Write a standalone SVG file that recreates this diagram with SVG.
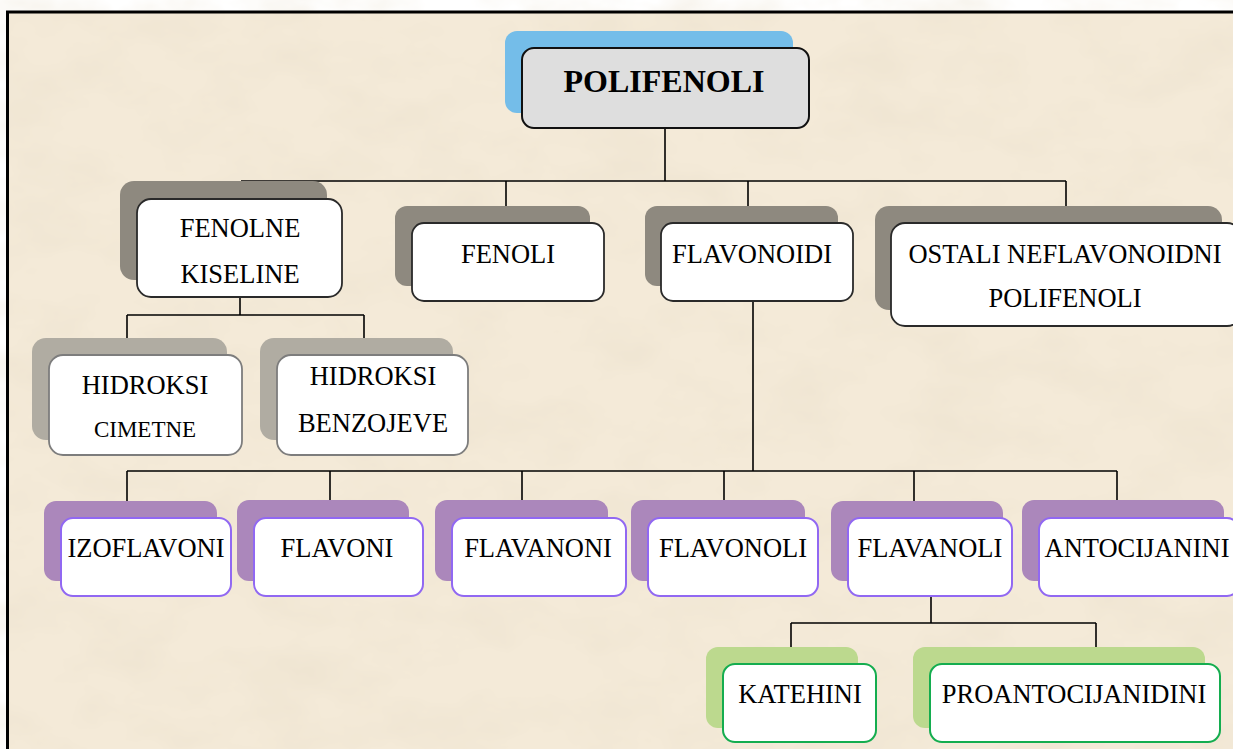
<svg xmlns="http://www.w3.org/2000/svg" width="1233" height="749" viewBox="0 0 1233 749">
<defs>
<filter id="paper" x="0" y="0" width="100%" height="100%" filterUnits="userSpaceOnUse">
<feTurbulence type="fractalNoise" baseFrequency="0.012 0.02" numOctaves="4" seed="7" result="n"/>
<feColorMatrix in="n" type="matrix" values="0 0 0 0 0.82  0 0 0 0 0.74  0 0 0 0 0.60  0.9 0 0 0 -0.36"/>
</filter>
<style>
.t{font-family:"Liberation Serif","Times New Roman",serif;font-size:26.5px;fill:#000;text-anchor:middle}
.tb{font-family:"Liberation Serif","Times New Roman",serif;font-size:32px;font-weight:bold;fill:#000;text-anchor:middle}
.conn line{stroke:#000;stroke-width:1.6}
.sh1{fill:#8e897f}
.sh2{fill:#b0aca2}
.shp{fill:#ab87bb}
.shg{fill:#bcd98e}
.shb{fill:#74bde9}
.f1{fill:#fff;stroke:#2a2a2a;stroke-width:1.8}
.f2{fill:#fff;stroke:#7d7d7d;stroke-width:1.8}
.fp{fill:#fff;stroke:#9168f2;stroke-width:2}
.fg{fill:#fff;stroke:#14ad4f;stroke-width:2}
.fr{fill:#dedede;stroke:#111;stroke-width:2}
</style>
</defs>
<rect x="0" y="0" width="1233" height="749" fill="#fff"/>
<rect x="7" y="12" width="1226" height="737" fill="#f4ead8"/>
<rect x="7" y="12" width="1226" height="737" filter="url(#paper)"/>
<line x1="6" y1="12" x2="1233" y2="12" stroke="#000" stroke-width="3"/>
<line x1="7.5" y1="11" x2="7.5" y2="749" stroke="#000" stroke-width="3"/>

<g id="connectors" class="conn">
<line x1="665" y1="128" x2="665" y2="181"/>
<line x1="241" y1="181" x2="1066" y2="181"/>
<line x1="241" y1="181" x2="241" y2="199"/>
<line x1="506" y1="181" x2="506" y2="206"/>
<line x1="748" y1="181" x2="748" y2="206"/>
<line x1="1066" y1="181" x2="1066" y2="206"/>
<line x1="240" y1="297" x2="240" y2="315"/>
<line x1="127" y1="315" x2="364" y2="315"/>
<line x1="127" y1="315" x2="127" y2="338"/>
<line x1="364" y1="315" x2="364" y2="338"/>
<line x1="753" y1="301" x2="753" y2="471"/>
<line x1="127" y1="471" x2="1117" y2="471"/>
<line x1="127" y1="471" x2="127" y2="501"/>
<line x1="330" y1="471" x2="330" y2="500"/>
<line x1="522" y1="471" x2="522" y2="500"/>
<line x1="724" y1="471" x2="724" y2="500"/>
<line x1="914" y1="471" x2="914" y2="501"/>
<line x1="1117" y1="471" x2="1117" y2="500"/>
<line x1="931" y1="596" x2="931" y2="623"/>
<line x1="791" y1="623" x2="1096" y2="623"/>
<line x1="791" y1="623" x2="791" y2="647"/>
<line x1="1096" y1="623" x2="1096" y2="647"/>
</g>

<g id="polifenoli">
<rect class="shb" x="505" y="31" width="288" height="82" rx="12"/>
<rect class="fr" x="522" y="48" width="287" height="80" rx="12"/>
<text class="tb" x="664" y="92">POLIFENOLI</text>
</g>

<g id="fenolne-kiseline">
<rect class="sh1" x="120" y="181" width="207" height="99" rx="14"/>
<rect class="f1" x="137" y="199" width="205" height="98" rx="14"/>
<text class="t" x="240" y="237">FENOLNE</text>
<text class="t" x="240" y="283">KISELINE</text>
</g>

<g id="fenoli">
<rect class="sh1" x="395" y="206" width="195" height="80" rx="12"/>
<rect class="f1" x="412" y="223" width="192" height="78" rx="12"/>
<text class="t" x="508" y="263">FENOLI</text>
</g>

<g id="flavonoidi">
<rect class="sh1" x="645" y="206" width="193" height="80" rx="12"/>
<rect class="f1" x="661" y="223" width="192" height="78" rx="12"/>
<text class="t" x="752" y="263">FLAVONOIDI</text>
</g>

<g id="ostali">
<rect class="sh1" x="875" y="206" width="347" height="104" rx="14"/>
<rect class="f1" x="891" y="223" width="350" height="103" rx="14"/>
<text class="t" x="1065" y="263">OSTALI NEFLAVONOIDNI</text>
<text class="t" x="1065" y="307">POLIFENOLI</text>
</g>

<g id="hidroksi-cimetne">
<rect class="sh2" x="32" y="338" width="195" height="102" rx="14"/>
<rect class="f2" x="49" y="355" width="193" height="100" rx="14"/>
<text class="t" x="145" y="394">HIDROKSI</text>
<text class="t" x="145" y="437" style="font-size:23px">CIMETNE</text>
</g>

<g id="hidroksi-benzojeve">
<rect class="sh2" x="260" y="338" width="193" height="102" rx="14"/>
<rect class="f2" x="277" y="355" width="191" height="100" rx="14"/>
<text class="t" x="373" y="385">HIDROKSI</text>
<text class="t" x="373" y="432">BENZOJEVE</text>
</g>

<g id="izoflavoni">
<rect class="shp" x="44" y="501" width="173" height="80" rx="12"/>
<rect class="fp" x="61" y="518" width="170" height="78" rx="12"/>
<text class="t" x="146" y="557">IZOFLAVONI</text>
</g>

<g id="flavoni">
<rect class="shp" x="237" y="500" width="172" height="81" rx="12"/>
<rect class="fp" x="254" y="518" width="169" height="78" rx="12"/>
<text class="t" x="337" y="557">FLAVONI</text>
</g>

<g id="flavanoni">
<rect class="shp" x="435" y="500" width="173" height="81" rx="12"/>
<rect class="fp" x="452" y="518" width="174" height="78" rx="12"/>
<text class="t" x="538" y="557">FLAVANONI</text>
</g>

<g id="flavonoli">
<rect class="shp" x="631" y="500" width="174" height="81" rx="12"/>
<rect class="fp" x="648" y="518" width="170" height="78" rx="12"/>
<text class="t" x="733" y="557">FLAVONOLI</text>
</g>

<g id="flavanoli">
<rect class="shp" x="831" y="501" width="172" height="80" rx="12"/>
<rect class="fp" x="848" y="518" width="164" height="78" rx="12"/>
<text class="t" x="930" y="557">FLAVANOLI</text>
</g>

<g id="antocijanini">
<rect class="shp" x="1022" y="500" width="202" height="81" rx="12"/>
<rect class="fp" x="1039" y="518" width="200" height="78" rx="12"/>
<text class="t" x="1137" y="557">ANTOCIJANINI</text>
</g>

<g id="katehini">
<rect class="shg" x="706" y="647" width="152" height="81" rx="12"/>
<rect class="fg" x="723" y="664" width="153" height="78" rx="12"/>
<text class="t" x="800" y="703">KATEHINI</text>
</g>

<g id="proantocijanidini">
<rect class="shg" x="913" y="647" width="292" height="81" rx="12"/>
<rect class="fg" x="930" y="664" width="290" height="78" rx="12"/>
<text class="t" x="1074" y="703">PROANTOCIJANIDINI</text>
</g>
</svg>
